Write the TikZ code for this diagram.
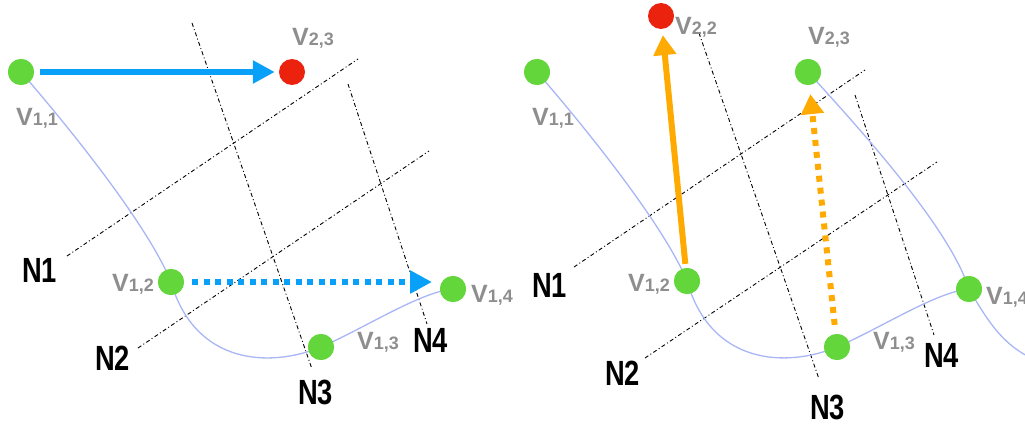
\documentclass[tikz,border=0pt]{standalone}
\usepackage{fontspec}
\setmainfont{Liberation Sans}
\usetikzlibrary{arrows.meta}
\definecolor{dotgreen}{RGB}{98,214,58}
\definecolor{dotred}{RGB}{234,34,14}
\definecolor{arrblue}{RGB}{8,160,248}
\definecolor{arrorange}{RGB}{255,170,0}
\definecolor{curveblue}{RGB}{168,182,245}
\definecolor{lblgray}{RGB}{142,142,142}
\newcommand\mylab[1]{{\fontsize{25}{25}\selectfont V}{\fontsize{18}{18}\selectfont #1}}
\newcommand\mynl[1]{\scalebox{0.78}[1]{\fontsize{35}{35}\selectfont #1}}
\tikzset{
  dotnode/.style={circle, inner sep=0pt, minimum size=26pt},
  gdot/.style={dotnode, fill=dotgreen},
  rdot/.style={dotnode, fill=dotred},
  vlab/.style={anchor=base west, inner sep=0pt, text=lblgray, font=\bfseries},
  nlab/.style={anchor=base west, inner sep=0pt, font=\bfseries},
  gridline/.style={black, line width=0.9pt, dash pattern=on 4pt off 2.5pt on 1pt off 2.5pt},
  curveline/.style={curveblue, line width=1.3pt},
  blueArr/.style={arrblue, line width=6pt, -{Triangle[length=22pt,width=22pt]}},
  blueDotArr/.style={blueArr, dash pattern=on 6pt off 5.5pt},
  orangeArr/.style={arrorange, line width=6pt, -{Triangle[length=20pt,width=22pt]}},
  orangeDotArr/.style={orangeArr, dash pattern=on 6pt off 6pt},
}
\begin{document}
\begin{tikzpicture}[x=1pt,y=-1pt]
\useasboundingbox (0,0) rectangle (1025,425);
\clip (0,0) rectangle (1025,425);
% ---------- left panel ----------
\coordinate (la1) at (67,256);  \coordinate (lb1) at (358,59);
\coordinate (la2) at (138,348); \coordinate (lb2) at (429,151);
\coordinate (la3) at (192,23);  \coordinate (lb3) at (312,369);
\coordinate (la4) at (348,84);  \coordinate (lb4) at (427,324);
\draw[gridline] (la1) -- (lb1);
\draw[gridline] (la2) -- (lb2);
\draw[gridline] (la3) -- (lb3);
\draw[gridline] (la4) -- (lb4);

\node[gdot] (a11) at (21,72) {};
\node[gdot] (a12) at (171,282) {};
\node[gdot] (a13) at (321,347) {};
\node[gdot] (a14) at (453,289) {};
\node[rdot] (a23) at (292,72) {};

\draw[curveline] (a11.center) .. controls (80,140) and (150,230) .. (a12.center)
                              .. controls (195,365) and (270,368) .. (a13.center)
                              .. controls (365,328) and (420,292) .. (a14.center);
\node[gdot] at (a11) {};
\node[gdot] at (a12) {};
\node[gdot] at (a13) {};
\node[gdot] at (a14) {};

\coordinate (ctip) at (432,282);
\draw[blueArr, shorten <=6pt, shorten >=4pt] (a11) -- (a23);
\draw[blueDotArr, shorten <=8pt] (a12) -- (ctip);

\node[vlab] (la11) at (16,125) {\mylab{1,1}};
\node[vlab] (la23) at (292,46) {\mylab{2,3}};
\node[vlab] (la12) at (112,291) {\mylab{1,2}};
\node[vlab] (la13) at (357,349) {\mylab{1,3}};
\node[vlab] (la14) at (471,302) {\mylab{1,4}};

\node[nlab] (ln1) at (22,282) {\mynl{N1}};
\node[nlab] (ln2) at (95,370) {\mynl{N2}};
\node[nlab] (ln3) at (298,404) {\mynl{N3}};
\node[nlab] (ln4) at (413,352) {\mynl{N4}};

% ---------- right panel ----------
\coordinate (ra1) at (574,267); \coordinate (rb1) at (865,70);
\coordinate (ra2) at (645,358); \coordinate (rb2) at (937,162);
\coordinate (ra3) at (699,33);  \coordinate (rb3) at (819,379);
\coordinate (ra4) at (855,95);  \coordinate (rb4) at (934,335);
\draw[gridline] (ra1) -- (rb1);
\draw[gridline] (ra2) -- (rb2);
\draw[gridline] (ra3) -- (rb3);
\draw[gridline] (ra4) -- (rb4);

\node[gdot] (b11) at (537,72) {};
\node[gdot] (b12) at (687,281) {};
\node[gdot] (b13) at (837,347) {};
\node[gdot] (b14) at (969,289) {};
\node[gdot] (b23) at (808,72) {};
\node[rdot] (b22) at (661,16) {};
\coordinate (bend) at (1040,362);

\draw[curveline] (b11.center) .. controls (596,140) and (666,230) .. (b12.center)
                              .. controls (711,365) and (786,368) .. (b13.center)
                              .. controls (881,328) and (936,292) .. (b14.center);
\draw[curveline] (b23.center) .. controls (870,140) and (950,230) .. (b14.center)
                              .. controls (990,325) and (1005,348) .. (bend);
\node[gdot] at (b11) {};
\node[gdot] at (b12) {};
\node[gdot] at (b13) {};
\node[gdot] at (b14) {};
\node[gdot] at (b23) {};

\draw[orangeArr, shorten <=4pt, shorten >=6pt] (b12) -- (b22);
\draw[orangeDotArr, shorten <=9pt, shorten >=9pt] (b13) -- (b23);

\node[vlab] (lb22) at (675,35) {\mylab{2,2}};
\node[vlab] (lb23) at (808,45) {\mylab{2,3}};
\node[vlab] (lb11) at (532,125) {\mylab{1,1}};
\node[vlab] (lb12) at (628,291) {\mylab{1,2}};
\node[vlab] (lb13) at (873,349) {\mylab{1,3}};
\node[vlab] (lb14) at (986,304) {\mylab{1,4}};

\node[nlab] (rn1) at (532,297) {\mynl{N1}};
\node[nlab] (rn2) at (605,385) {\mynl{N2}};
\node[nlab] (rn3) at (810,419) {\mynl{N3}};
\node[nlab] (rn4) at (924,367) {\mynl{N4}};
\end{tikzpicture}
\end{document}
